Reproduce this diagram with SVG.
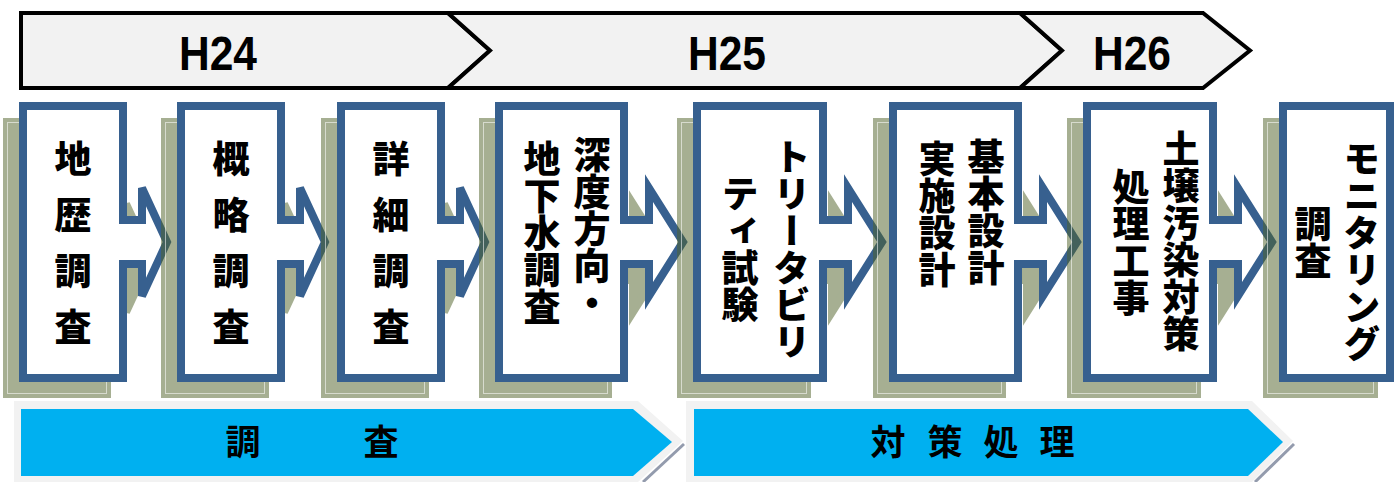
<svg xmlns="http://www.w3.org/2000/svg" width="1400" height="482" viewBox="0 0 1400 482">
<style>
.yr{fill:#f2f2f2;stroke:#000;stroke-width:4;stroke-linejoin:miter}
.yt{font-family:"Liberation Sans",sans-serif;font-weight:bold;font-size:48px;fill:#000;text-anchor:middle}
.sh{fill:#4f6228;stroke:#4f6228;stroke-width:8;stroke-linejoin:miter}
.shg{opacity:.5}
.in{fill:none;stroke:#fff;stroke-opacity:.55;stroke-width:1}
.nd{fill:#fff;stroke:#37608f;stroke-width:8;stroke-linejoin:miter}
.v{font-family:"Noto Sans CJK JP","Noto Sans CJK SC",sans-serif;font-weight:900;font-size:37px;writing-mode:vertical-rl;fill:#000}
.v1{letter-spacing:19px}
.bf{fill:#f2f2f2}
.bb{fill:#00b0f0}
.bs{fill:none;stroke:#939bad;stroke-width:3}
.bt{font-family:"Noto Sans CJK JP","Noto Sans CJK SC",sans-serif;font-weight:bold;font-size:35px;fill:#000;text-anchor:middle}
</style>

<g id="years">
<path class="yr" d="M21,13 H448 L490,50.5 L448,88 H21 Z"/>
<path class="yr" d="M448,13 H1020 L1062,50.5 L1020,88 H448 L490,50.5 Z"/>
<path class="yr" d="M1020,13 H1203 L1250,50.5 L1203,88 H1020 L1062,50.5 Z"/>
<text class="yt" x="218" y="70" textLength="78" lengthAdjust="spacingAndGlyphs">H24</text>
<text class="yt" x="727" y="70" textLength="78" lengthAdjust="spacingAndGlyphs">H25</text>
<text class="yt" x="1132" y="70" textLength="78" lengthAdjust="spacingAndGlyphs">H26</text>
</g>

<g id="n1">
<g class="shg" transform="translate(-16,16)"><path class="sh" d="M23,106 H123 V220 H142 V188 L167,242 L142,296 V264 H123 V378 H23 Z"/></g>
<rect class="in" x="7.5" y="122.5" width="99" height="271"/>
<path class="nd" d="M23,106 H123 V220 H142 V188 L167,242 L142,296 V264 H123 V378 H23 Z"/>
<text class="v v1" x="73" y="140">地歴調査</text>
</g>

<g id="n2">
<g class="shg" transform="translate(-16,16)"><path class="sh" d="M181,106 H281 V220 H300 V188 L325,242 L300,296 V264 H281 V378 H181 Z"/></g>
<rect class="in" x="165.5" y="122.5" width="99" height="271"/>
<path class="nd" d="M181,106 H281 V220 H300 V188 L325,242 L300,296 V264 H281 V378 H181 Z"/>
<text class="v v1" x="231" y="140">概略調査</text>
</g>

<g id="n3">
<g class="shg" transform="translate(-16,16)"><path class="sh" d="M341,106 H441 V220 H460 V188 L485,242 L460,296 V264 H441 V378 H341 Z"/></g>
<rect class="in" x="325.5" y="122.5" width="99" height="271"/>
<path class="nd" d="M341,106 H441 V220 H460 V188 L485,242 L460,296 V264 H441 V378 H341 Z"/>
<text class="v v1" x="391" y="140">詳細調査</text>
</g>

<g id="n4">
<g class="shg" transform="translate(-16,16)"><path class="sh" d="M499,106 H624 V220 H649 V188 L683,242 L649,296 V264 H624 V378 H499 Z"/></g>
<rect class="in" x="483.5" y="122.5" width="124" height="271"/>
<path class="nd" d="M499,106 H624 V220 H649 V188 L683,242 L649,296 V264 H624 V378 H499 Z"/>
<text class="v" x="592" y="136">深度方向・</text>
<text class="v" x="542" y="140">地下水調査</text>
</g>

<g id="n5">
<g class="shg" transform="translate(-16,16)"><path class="sh" d="M697,106 H823 V220 H848 V188 L882,242 L848,296 V264 H823 V378 H697 Z"/></g>
<rect class="in" x="681.5" y="122.5" width="125" height="271"/>
<path class="nd" d="M697,106 H823 V220 H848 V188 L882,242 L848,296 V264 H823 V378 H697 Z"/>
<text class="v" x="792" y="138">トリータビリ</text>
<text class="v" x="740" y="175">ティ試験</text>
</g>

<g id="n6">
<g class="shg" transform="translate(-16,16)"><path class="sh" d="M893,106 H1018 V220 H1043 V188 L1077,242 L1043,296 V264 H1018 V378 H893 Z"/></g>
<rect class="in" x="877.5" y="122.5" width="124" height="271"/>
<path class="nd" d="M893,106 H1018 V220 H1043 V188 L1077,242 L1043,296 V264 H1018 V378 H893 Z"/>
<text class="v" x="986" y="138">基本設計</text>
<text class="v" x="937" y="140">実施設計</text>
</g>

<g id="n7">
<g class="shg" transform="translate(-16,16)"><path class="sh" d="M1087,106 H1213 V220 H1238 V188 L1272,242 L1238,296 V264 H1213 V378 H1087 Z"/></g>
<rect class="in" x="1071.5" y="122.5" width="125" height="271"/>
<path class="nd" d="M1087,106 H1213 V220 H1238 V188 L1272,242 L1238,296 V264 H1213 V378 H1087 Z"/>
<text class="v" x="1181" y="130">土壌汚染対策</text>
<text class="v" x="1131" y="168">処理工事</text>
</g>

<g id="n8">
<g class="shg" transform="translate(-16,16)"><path class="sh" d="M1283,106 H1390 V378 H1283 Z"/></g>
<rect class="in" x="1267.5" y="122.5" width="106" height="271"/>
<path class="nd" d="M1283,106 H1390 V378 H1283 Z"/>
<text class="v" x="1362" y="140">モニタリング</text>
<text class="v" x="1313" y="205">調査</text>
</g>

<g id="phase1">
<path class="bf" d="M14,401 H638 L683,441 L638,482 H14 Z"/>
<path class="bs" d="M684,444 L643,482"/>
<path class="bb" d="M21,409 H633 L672,442 L633,476 H21 Z"/>
<text class="bt" x="243" y="455">調</text>
<text class="bt" x="381" y="455">査</text>
</g>

<g id="phase2">
<path class="bf" d="M686,401 H1252 L1293,441 L1252,482 H686 Z"/>
<path class="bs" d="M1294,444 L1255,482"/>
<path class="bb" d="M694,409 H1248 L1283,442 L1248,476 H694 Z"/>
<text class="bt" x="888" y="455">対</text>
<text class="bt" x="945" y="455">策</text>
<text class="bt" x="1001" y="455">処</text>
<text class="bt" x="1057" y="455">理</text>
</g>

<g id="connectors"></g>
</svg>
